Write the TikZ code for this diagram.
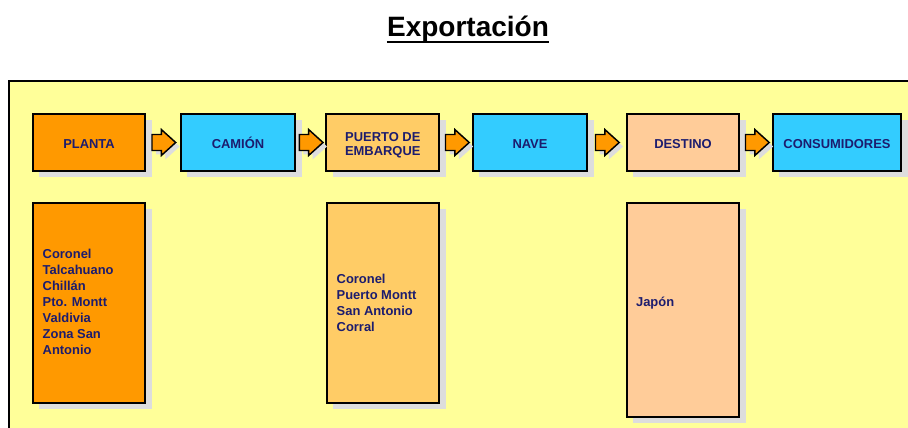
\documentclass[tikz,border=0pt]{standalone}
\usepackage{fontspec}
\setmainfont{Liberation Sans}
\usetikzlibrary{shadows,calc}
\definecolor{bgyellow}{HTML}{FFFF99}
\definecolor{orangeA}{HTML}{FF9900}
\definecolor{cyanA}{HTML}{33CCFF}
\definecolor{peachA}{HTML}{FFCC66}
\definecolor{peachB}{HTML}{FFCC99}
\definecolor{shadowgray}{HTML}{DDDDDD}
\definecolor{navy}{HTML}{1C1C6E}
\begin{document}
\begin{tikzpicture}[x=0.75pt,y=-0.75pt,
  shad/.style={drop shadow={shadow xshift=5pt, shadow yshift=-4.5pt, fill=shadowgray, opacity=1}},
  box/.style={shad, draw=black, line width=1.3pt, inner sep=0pt, text=navy,
    font=\fontsize{9.7}{10}\selectfont\bfseries, align=center},
  topbox/.style={box, minimum height=42.3pt, text height=9.5pt, text depth=0pt},
  listbox/.style={box, minimum width=84.45pt},
  listtxt/.style={inner sep=0pt, align=left, text=navy, font=\fontsize{9.7}{12}\selectfont\bfseries},
  pics/blockarrow/.style={code={
    \fill[shadowgray] (-8,-4) -- (1.3,-4) -- (1.3,-9) -- (15.7,4) -- (1.3,17) -- (1.3,12) -- (-8,12) -- cycle;
    \draw[line width=1.1pt, fill=orangeA, line join=miter]
      (-12,-8) -- (-2.7,-8) -- (-2.7,-13) -- (11.7,0) -- (-2.7,13) -- (-2.7,8) -- (-12,8) -- cycle;
  }}
  ]
\useasboundingbox (0,0) rectangle (908,428);
\clip (0,0) rectangle (908,428);
\draw[line width=1.5pt, fill=bgyellow] (9,81) rectangle (930,450);

\node[font=\fontsize{21}{25}\selectfont\bfseries, inner sep=0pt, anchor=base] (title) at (468,36.7) {Exportación};
\draw[line width=1.5pt] ([yshift=-3.75pt]title.base west) -- ([yshift=-3.75pt]title.base east);

\node[topbox, fill=orangeA, minimum width=84.45pt] (planta) at (89,142.5) {PLANTA};
\node[topbox, fill=cyanA, minimum width=85.95pt] (camion) at (238,142.5) {CAMIÓN};
\node[topbox, fill=peachA, minimum width=84.75pt, text height=19pt, text depth=0pt] (puerto) at (382.8,142.5) {PUERTO DE\\EMBARQUE};
\node[topbox, fill=cyanA, minimum width=85.95pt] (nave) at (530,142.5) {NAVE};
\node[topbox, fill=peachB, minimum width=84.45pt] (destino) at (683,142.5) {DESTINO};
\node[topbox, fill=cyanA, minimum width=96.45pt] (consum) at (837,142.5) {CONSUMIDORES};

\pic (a1) at ($(planta.east)!0.5!(camion.west)+(1,0)$) {blockarrow};
\pic (a2) at ($(camion.east)!0.5!(puerto.west)+(0.5,0)$) {blockarrow};
\pic (a3) at ($(puerto.east)!0.5!(nave.west)+(1.5,0)$) {blockarrow};
\pic (a4) at ($(nave.east)!0.5!(destino.west)+(0.5,0)$) {blockarrow};
\pic (a5) at ($(destino.east)!0.5!(consum.west)+(1.5,0)$) {blockarrow};

\node[listbox, fill=orangeA, minimum height=150.45pt] (plantalist) at (89,303) {};
\node[listbox, fill=peachA, minimum height=150.45pt] (puertolist) at (383,303) {};
\node[listbox, fill=peachB, minimum height=160.95pt] (destlist) at (683,310) {};

\node[listtxt, anchor=west] (plantatxt) at ($(plantalist.west)+(10.6,-1)$)
  {Coronel\\Talcahuano\\Chillán\\Pto. Montt\\Valdivia\\Zona San\\Antonio};
\node[listtxt, anchor=west] (puertotxt) at ($(puertolist.west)+(10.6,0)$)
  {Coronel\\Puerto Montt\\San Antonio\\Corral};
\node[listtxt, anchor=west] (desttxt) at ($(destlist.west)+(10,-7.3)$) {Japón};
\end{tikzpicture}
\end{document}
